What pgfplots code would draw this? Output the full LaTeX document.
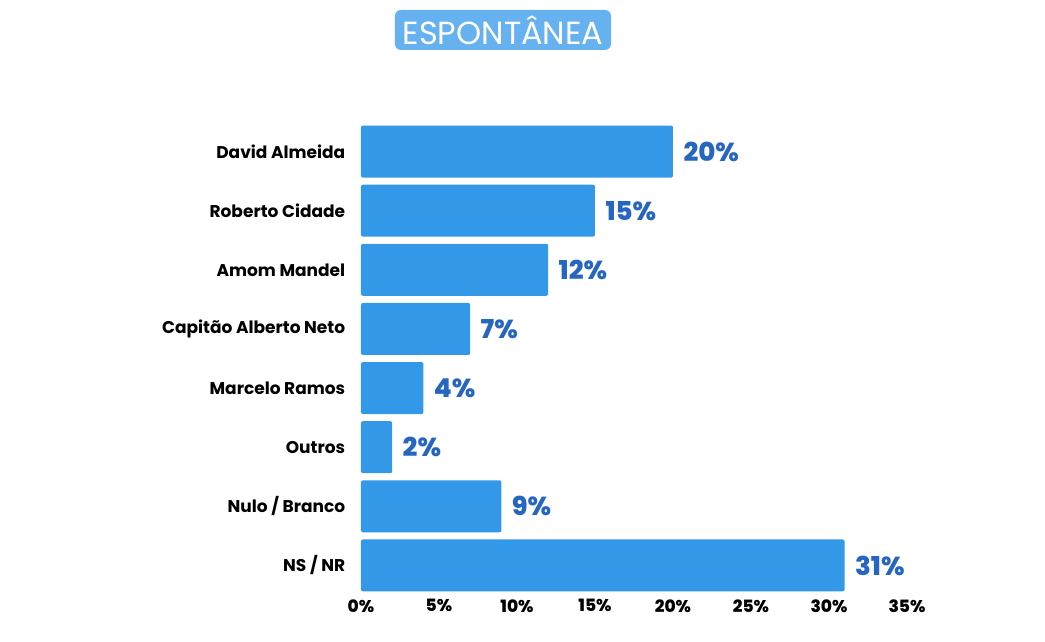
\documentclass[border=0pt]{standalone}
\usepackage{pgfplots}
\pgfplotsset{compat=1.18}
\usepackage{fontspec}
\setmainfont{Poppins}
\newfontfamily\xbold{Poppins ExtraBold}
\definecolor{barblue}{RGB}{52,152,232}
\definecolor{valblue}{RGB}{38,102,192}
\definecolor{titleblue}{RGB}{102,178,240}
\begin{document}
\begin{tikzpicture}
\begin{axis}[
  at={(0,0)}, anchor=south west,
  scale only axis,
  width=546pt, height=473pt,
  xbar, bar width=52pt,
  xmin=0, xmax=35,
  ymin=-0.5, ymax=7.5, y dir=reverse,
  axis line style={draw=none},
  tick style={draw=none},
  /pgf/number format/assume math mode=true,
  xtick={0,5,...,35},
  xticklabel={\pgfmathprintnumber{\tick}\%},
  xticklabel style={font=\fontsize{17}{19}\selectfont\xbold, yshift=-1pt},
  ytick={0,...,7},
  yticklabels={David Almeida, Roberto Cidade, Amom Mandel, Capitão Alberto Neto, Marcelo Ramos, Outros, Nulo / Branco, NS / NR},
  yticklabel style={font=\fontsize{17}{20}\selectfont\bfseries, xshift=-8pt},
  nodes near coords={\pgfmathprintnumber{\pgfplotspointmeta}\%},
  nodes near coords style={font=\fontsize{26}{30}\selectfont\xbold, text=valblue, anchor=west, xshift=7pt},
]
\addplot[fill=barblue, draw=none, rounded corners=2pt] coordinates {
  (20,0) (15,1) (12,2) (7,3) (4,4) (2,5) (9,6) (31,7)
};
\end{axis}
\node[fill=titleblue, rounded corners=6pt, text=white, font=\fontsize{32}{36}\selectfont, minimum width=216pt, minimum height=40pt, inner sep=0pt] at (142pt,565pt) {ESPONTÂNEA};
\pgfresetboundingbox
\path (-361pt,-47pt) rectangle (684pt,595pt);
\end{tikzpicture}
\end{document}
